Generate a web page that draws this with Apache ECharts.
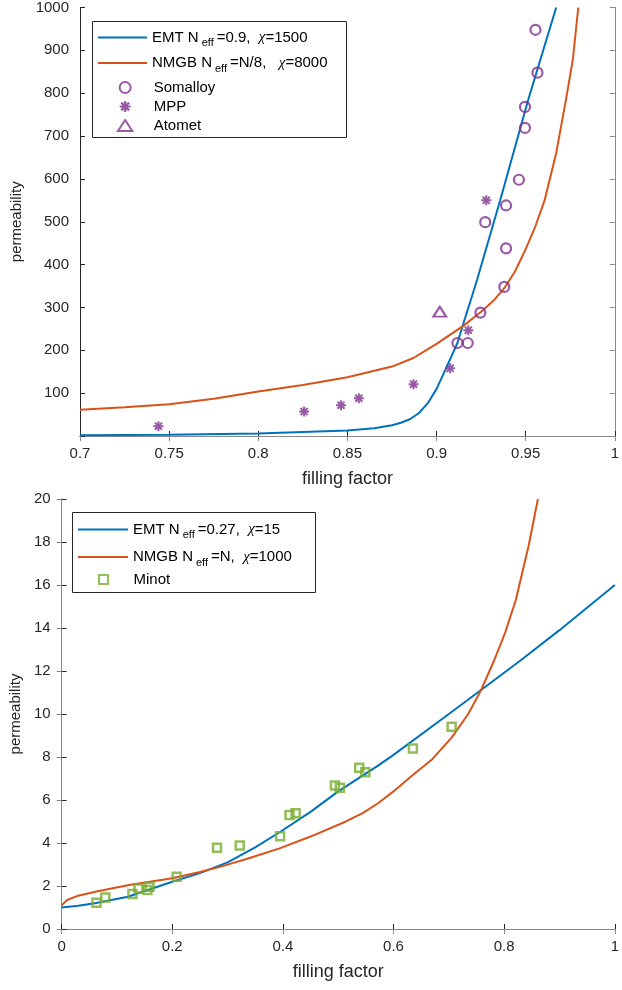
<!DOCTYPE html>
<html>
<head>
<meta charset="utf-8">
<script src="https://cdn.jsdelivr.net/npm/echarts@6/dist/echarts.min.js"></script>
<style>
html, body { margin: 0; padding: 0; background: #fff; }
#echart { width: 622px; height: 990px; }
</style>
</head>
<body>
<div id="echart"></div>
<script>
// top panel: model curves
var emtTop = [[0.70, 2], [0.75, 3], [0.80, 6], [0.85, 13], [0.865, 18], [0.875, 25], [0.88, 31], [0.885, 39], [0.89, 53], [0.895, 76], [0.90, 110], [0.905, 155], [0.9117, 217], [0.915, 262], [0.92, 328], [0.9227, 364], [0.9357, 550], [0.9513, 783], [0.9671, 1000]];
var nmgbTop = [[0.70, 61], [0.725, 67], [0.75, 74], [0.775, 87], [0.80, 104], [0.825, 119], [0.85, 137], [0.875, 162], [0.887, 182], [0.90, 215], [0.915, 257], [0.925, 290], [0.932, 316], [0.938, 345], [0.944, 384], [0.95, 436], [0.9555, 490], [0.9606, 550], [0.9671, 660], [0.9726, 785], [0.9765, 880], [0.9795, 1000]];
// top panel: measurements
var somalloy = [[0.9555, 948], [0.9566, 848], [0.9496, 768], [0.9496, 719], [0.9462, 598], [0.939, 538], [0.9273, 499], [0.939, 438], [0.938, 348], [0.9246, 288], [0.9117, 217], [0.9175, 217]];
var mpp = [[0.744, 23], [0.8257, 57], [0.8464, 72], [0.8564, 88], [0.8871, 121], [0.9076, 158], [0.9178, 247], [0.9279, 550]];
var atomet = [[0.9018, 290]];

// bottom panel
var emtBottom = [[0, 1.0], [0.03, 1.08], [0.06, 1.2], [0.12, 1.5], [0.2, 2.2], [0.25, 2.6], [0.3, 3.1], [0.35, 3.8], [0.394, 4.5], [0.45, 5.45], [0.5, 6.4], [0.572, 7.6], [0.6, 8.1], [0.7, 10.0], [0.76, 11.15], [0.83, 12.5], [0.9, 13.9], [1.0, 16.0]];
var nmgbBottom = [[0, 1.1], [0.01, 1.35], [0.03, 1.55], [0.063, 1.74], [0.122, 2.05], [0.2, 2.36], [0.25, 2.65], [0.288, 2.9], [0.34, 3.3], [0.394, 3.75], [0.45, 4.3], [0.513, 4.99], [0.545, 5.4], [0.572, 5.85], [0.6, 6.4], [0.631, 7.08], [0.67, 7.9], [0.705, 8.9], [0.735, 10.0], [0.758, 11.1], [0.782, 12.5], [0.802, 13.8], [0.821, 15.3], [0.844, 17.8], [0.861, 20]];
var minot = [[0.063, 1.22], [0.079, 1.46], [0.128, 1.63], [0.139, 1.88], [0.155, 1.81], [0.159, 1.97], [0.208, 2.43], [0.281, 3.78], [0.322, 3.88], [0.395, 4.31], [0.412, 5.3], [0.423, 5.38], [0.494, 6.67], [0.503, 6.57], [0.538, 7.5], [0.549, 7.29], [0.635, 8.4], [0.705, 9.41]];

var blue = '#0072BD', orange = '#D95319', purple = '#7E2F8E', green = '#77AC30';
var axisColor = '#262626';
var font = 'Liberation Sans';

var legendText = {
    EMT1: '{t|EMT N}{s|eff}{t|=0.9,  }{c|χ}{t|=1500}',
    NMGB1: '{t|NMGB N}{s|eff}{t|=N/8,   }{c|χ}{t|=8000}',
    EMT2: '{t|EMT N}{s|eff}{t|=0.27,  }{c|χ}{t|=15}',
    NMGB2: '{t|NMGB N}{s|eff}{t|=N,  }{c|χ}{t|=1000}'
};
var rich = {
    t: { fontSize: 15, fontFamily: font, color: '#000' },
    s: { fontSize: 11, fontFamily: font, color: '#000', padding: [11, 3, 0, 3] },
    c: { fontSize: 15, fontFamily: 'Liberation Serif', fontStyle: 'italic', color: '#000' }
};

var asterisk = 'path://M-5,-1L5,-1L5,1L-5,1Z M1,-5L1,5L-1,5L-1,-5Z M-2.83,-4.24L4.24,2.83L2.83,4.24L-4.24,-2.83Z M-4.24,2.83L2.83,-4.24L4.24,-2.83L-2.83,4.24Z';
var squarePath = 'path://M0,0L10,0L10,10L0,10Z';
var trianglePath = 'path://M6.5,0L13,10L0,10Z';
var lineIcon = 'path://M0,0L50,0L50,2L0,2Z';

function mainX(grid, min, max, step) {
    return {
        gridIndex: grid, type: 'value', min: min, max: max, interval: step, position: 'bottom',
        name: 'filling factor', nameLocation: 'middle', nameGap: 34,
        nameTextStyle: { fontSize: 18, fontFamily: font, color: axisColor },
        axisLine: { lineStyle: { color: axisColor, width: 1 } },
        axisTick: { inside: true, length: 5, lineStyle: { color: axisColor } },
        axisLabel: { fontSize: 15, fontFamily: font, color: axisColor, margin: 10 },
        splitLine: { show: false }
    };
}
function boxX(grid, min, max, step) {
    return {
        gridIndex: grid, type: 'value', min: min, max: max, interval: step, position: 'top',
        axisLine: { lineStyle: { color: '#888', width: 1 } },
        axisTick: { inside: true, length: 5, lineStyle: { color: '#888' } },
        axisLabel: { show: false }, splitLine: { show: false }
    };
}
function mainY(grid, min, max, step, gap, hideZero) {
    return {
        gridIndex: grid, type: 'value', min: min, max: max, interval: step, position: 'left',
        name: 'permeability', nameLocation: 'middle', nameGap: gap,
        nameTextStyle: { fontSize: 15, fontFamily: font, color: axisColor },
        axisLine: { show: true, lineStyle: { color: axisColor, width: 1 } },
        axisTick: { show: true, inside: true, length: 5, lineStyle: { color: axisColor } },
        axisLabel: {
            fontSize: 15, fontFamily: font, color: axisColor, margin: 11,
            formatter: function (v) { return (hideZero && v === 0) ? '' : String(v); }
        },
        splitLine: { show: false }
    };
}
function boxY(grid, min, max, step) {
    return {
        gridIndex: grid, type: 'value', min: min, max: max, interval: step, position: 'right',
        axisLine: { show: true, lineStyle: { color: '#888', width: 1 } },
        axisTick: { show: true, inside: true, length: 5, lineStyle: { color: '#888' } },
        axisLabel: { show: false }, splitLine: { show: false }
    };
}
function curve(name, data, color, idx) {
    return {
        name: name, type: 'line', data: data, xAxisIndex: idx, yAxisIndex: idx,
        symbol: 'none', smooth: false,
        lineStyle: { color: color, width: 2 }, itemStyle: { color: color }, z: 3
    };
}
function dots(name, data, symbol, size, color, filled, idx, bw) {
    return {
        name: name, type: 'scatter', data: data, xAxisIndex: idx, yAxisIndex: idx,
        symbol: symbol, symbolSize: size,
        itemStyle: filled ? { color: color } : { color: 'rgba(0,0,0,0)', borderColor: color, borderWidth: bw || 2 },
        z: 4
    };
}
function legendBlock(names, left, top, gap, w, h) {
    return {
        orient: 'vertical', left: left, top: top, itemGap: gap, padding: 0,
        itemWidth: w, itemHeight: h, selectedMode: false,
        data: names,
        textStyle: { fontSize: 15, fontFamily: font, color: '#000', rich: rich },
        formatter: function (name) { return legendText[name] || name; }
    };
}

var myChart = echarts.init(document.getElementById('echart'));
option = {
    backgroundColor: '#fff',
    animation: false,
    grid: [
        { left: 80, top: 7, width: 541, height: 429 },
        { left: 58, top: 499, width: 563, height: 430 }
    ],
    xAxis: [
        mainX(0, 0.7, 1, 0.05), boxX(0, 0.7, 1, 0.05),
        mainX(1, 0, 1, 0.2), boxX(1, 0, 1, 0.2)
    ],
    yAxis: [
        mainY(0, 0, 1000, 100, 50, true), boxY(0, 0, 1000, 100),
        mainY(1, 0, 20, 2, 29, false), boxY(1, 0, 20, 2)
    ],
    graphic: [
        { type: 'rect', z: 3, shape: { x: 92.5, y: 21.5, width: 254, height: 116 }, style: { fill: '#fff', stroke: axisColor, lineWidth: 1 } },
        { type: 'rect', z: 3, shape: { x: 72.5, y: 512.5, width: 243, height: 80 }, style: { fill: '#fff', stroke: axisColor, lineWidth: 1 } }
    ],
    legend: [
        legendBlock([{ name: 'EMT1', icon: lineIcon }, { name: 'NMGB1', icon: lineIcon }], 98, 30, 7, 49, 14),
        legendBlock([
            { name: 'Somalloy', icon: 'circle' },
            { name: 'MPP', icon: asterisk },
            { name: 'Atomet', icon: trianglePath }
        ], 117, 80, 4, 47, 11),
        legendBlock([{ name: 'EMT2', icon: lineIcon }, { name: 'NMGB2', icon: lineIcon }], 78, 522, 9, 50, 14),
        legendBlock([{ name: 'Minot', icon: squarePath }], 98, 572, 5, 50, 9)
    ],
    series: [
        curve('EMT1', emtTop, blue, 0),
        curve('NMGB1', nmgbTop, orange, 0),
        dots('Somalloy', somalloy, 'circle', 10, purple, false, 0, 2.2),
        dots('MPP', mpp, asterisk, 10, purple, true, 0),
        dots('Atomet', atomet, trianglePath, [13, 10], purple, false, 0, 2),
        curve('EMT2', emtBottom, blue, 2),
        curve('NMGB2', nmgbBottom, orange, 2),
        dots('Minot', minot, squarePath, 8, green, false, 2, 2.5)
    ]
};
myChart.setOption(option);
</script>
</body>
</html>
